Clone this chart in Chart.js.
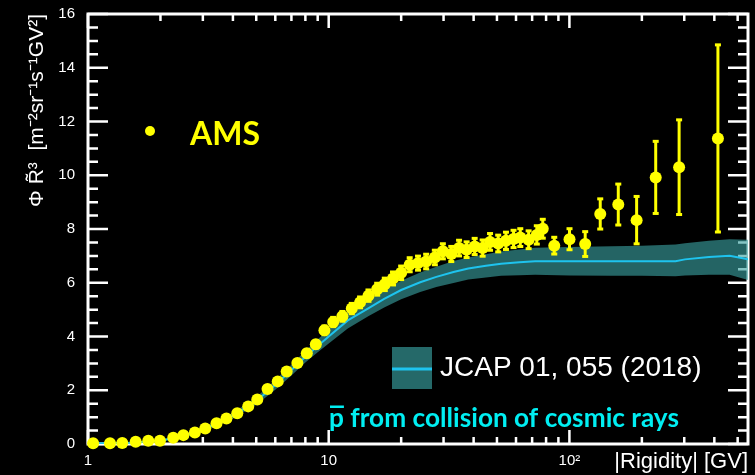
<!DOCTYPE html>
<html><head><meta charset="utf-8">
<script src="https://cdn.jsdelivr.net/npm/chart.js@4.4.1/dist/chart.umd.min.js"></script>
<style>html,body{margin:0;padding:0;background:#000;}canvas{display:block;}</style>
</head><body>
<canvas id="c" width="755" height="475"></canvas>
<script>
// ---- AMS data (rigidity GV, flux*R^3, symmetric error) ----
const amsR = [1.05,1.234,1.388,1.578,1.78,1.99,2.26,2.49,2.78,3.07,3.42,3.76,4.17,4.63,5.05,5.57,6.14,6.69,7.41,8.11,8.84,9.6,10.44,11.4,12.47,13.5,14.63,15.9,17.1,18.5,20.0,21.7,23.5,25.4,27.6,29.8,32.3,34.8,37.4,40.4,43.6,46.8,50.6,54.5,58.6,62.5,67.7,73.2,77.5,86.5,100.1,116.3,134.3,159.6,190.2,228.3,285.6,414];
const amsFlux = [0.03,0.03,0.04,0.08,0.12,0.12,0.23,0.33,0.43,0.58,0.77,0.95,1.14,1.40,1.66,2.05,2.33,2.70,3.01,3.38,3.71,4.23,4.54,4.75,5.04,5.27,5.52,5.76,5.94,6.16,6.37,6.67,6.73,6.79,6.94,7.17,7.07,7.29,7.23,7.35,7.29,7.52,7.46,7.56,7.63,7.68,7.60,7.78,8.01,7.38,7.62,7.44,8.56,8.91,8.33,9.92,10.30,11.37];
const amsErr = [0.01,0.01,0.01,0.02,0.02,0.02,0.03,0.03,0.04,0.04,0.05,0.05,0.06,0.06,0.07,0.07,
  0.10,0.12,0.13,0.15,0.16,0.18,0.19,0.2,0.21,0.22,0.23,0.24,
  0.25,0.26,0.27,0.28,0.28,0.29,0.29,0.3,0.3,0.31,0.31,0.32,
  0.32,0.33,0.33,0.34,0.34,0.35,0.35,0.36,
  0.37,0.33,0.41,0.48,0.58,0.78,0.9,1.36,1.78,3.5];

// ---- Model (JCAP 01, 055 (2018)) ----
const modelR = [1,1.5,2,2.5,3,3.5,4,5,6,7,8,9,10,12,14.6,17,20,24,28,33,38,45,52,62,72,100,150,200,276,302,380,463,552];
const modelFlux = [0.02,0.05,0.12,0.3,0.53,0.8,1.05,1.6,2.2,2.75,3.25,3.65,4.0,4.6,5.05,5.4,5.73,6.02,6.22,6.40,6.53,6.63,6.71,6.76,6.80,6.80,6.80,6.80,6.80,6.87,6.96,7.0,6.87];
const bandLow = [0.0,0.03,0.09,0.25,0.46,0.71,0.94,1.46,2.02,2.55,3.03,3.41,3.74,4.3,4.75,5.08,5.39,5.66,5.84,5.99,6.12,6.2,6.26,6.28,6.3,6.27,6.26,6.26,6.24,6.27,6.3,6.3,6.1];
const bandHigh = [0.04,0.08,0.16,0.36,0.6,0.89,1.16,1.74,2.38,2.95,3.47,3.89,4.26,4.9,5.35,5.72,6.07,6.38,6.60,6.81,6.94,7.06,7.16,7.24,7.3,7.33,7.36,7.38,7.42,7.47,7.56,7.62,7.6];

// ---- axes ----
const xTickValues = [1,10,100];
const xTickLabels = ['1','10','10\u00B2'];
const xMin = 1, xMax = 552;
const yMin = 0, yMax = 16, yStep = 2;
const xTitle = '|Rigidity| [GV]';
const yTitle = '\u03A6 R\u0303\u00B3  [m\u207B\u00B2sr\u207B\u00B9s\u207B\u00B9GV\u00B2]';
const amsLabel = 'AMS';
const modelLabel = 'JCAP 01, 055 (2018)';
const noteText = 'p from collision of cosmic rays';

const FONT = '"Liberation Sans", Arial, Helvetica, sans-serif';
const YELLOW = '#ffff00';
const CYAN_LINE = '#1ec3ee';
const BAND = 'rgba(58,162,162,0.62)';
const BAND_SOLID = '#256969';
const NOTE = '#00eef2';

const pts = (xs, ys) => xs.map((v, i) => ({x: v, y: ys[i]}));

const frameTicks = {
  id: 'frameTicks',
  beforeDatasetsDraw(chart) {
    const {ctx, chartArea: a, scales: {x, y}} = chart;
    ctx.save();
    ctx.strokeStyle = '#fff';
    ctx.lineWidth = 2.5;
    ctx.beginPath();
    for (let i = 0; i <= (yMax - yMin) * 2; i++) {
      const v = yMin + i / 2;
      const py = y.getPixelForValue(v);
      const len = (i % 4 === 0) ? 20 : 10;
      ctx.moveTo(a.left, py); ctx.lineTo(a.left + len, py);
      ctx.moveTo(a.right, py); ctx.lineTo(a.right - len, py);
    }
    for (let d = 1; d <= 100; d *= 10) {
      for (let m = 1; m <= 9; m++) {
        const v = d * m;
        if (v > xMax) break;
        const px = x.getPixelForValue(v);
        const len = m === 1 ? 14 : 7;
        ctx.moveTo(px, a.bottom); ctx.lineTo(px, a.bottom - len);
        ctx.moveTo(px, a.top); ctx.lineTo(px, a.top + len);
      }
    }
    ctx.stroke();
    ctx.lineWidth = 3;
    ctx.strokeRect(a.left, a.top, a.right - a.left, a.bottom - a.top);
    ctx.restore();
  }
};

const errorBars = {
  id: 'errorBars',
  beforeDatasetDraw(chart, args) {
    if (args.index !== 0) return;
    const {ctx, scales: {x, y}} = chart;
    ctx.save();
    ctx.strokeStyle = YELLOW; ctx.fillStyle = YELLOW; ctx.lineWidth = 3;
    for (let i = 0; i < amsR.length; i++) {
      const px = x.getPixelForValue(amsR[i]);
      const yt = y.getPixelForValue(amsFlux[i] + amsErr[i]);
      const yb = y.getPixelForValue(amsFlux[i] - amsErr[i]);
      ctx.beginPath(); ctx.moveTo(px, yt); ctx.lineTo(px, yb); ctx.stroke();
      ctx.fillRect(px - 3, yt - 1, 6, 3);
      ctx.fillRect(px - 3, yb - 2, 6, 3);
    }
    ctx.restore();
  }
};

const annotations = {
  id: 'annotations',
  afterDraw(chart) {
    const {ctx} = chart;
    ctx.save();
    // AMS legend
    ctx.fillStyle = YELLOW;
    ctx.beginPath(); ctx.arc(150, 131, 5, 0, Math.PI * 2); ctx.fill();
    ctx.font = 'bold 32px Lato, "Open Sans", sans-serif';
    ctx.textBaseline = 'alphabetic'; ctx.textAlign = 'left';
    ctx.fillText(amsLabel, 190, 145);
    // model legend
    ctx.fillStyle = BAND_SOLID;
    ctx.fillRect(392, 347, 40, 42);
    ctx.strokeStyle = CYAN_LINE; ctx.lineWidth = 3;
    ctx.beginPath(); ctx.moveTo(392, 369); ctx.lineTo(432, 369); ctx.stroke();
    ctx.fillStyle = '#fff';
    ctx.font = '28px ' + FONT;
    ctx.fillText(modelLabel, 440, 376);
    // note text
    let size = 28;
    ctx.font = 'bold ' + size + 'px Lato, "Open Sans", sans-serif';
    const w = ctx.measureText(noteText).width;
    if (w > 350) { size = size * 350 / w; ctx.font = 'bold ' + size.toFixed(2) + 'px Lato, "Open Sans", sans-serif'; }
    ctx.fillStyle = NOTE;
    ctx.fillText(noteText, 329, 427);
    const pw = ctx.measureText('p').width;
    ctx.fillRect(330, 405.5, pw - 1, 2.5);
    ctx.restore();
  }
};

new Chart(document.getElementById('c'), {
  type: 'scatter',
  data: {
    datasets: [
      {label: amsLabel, data: pts(amsR, amsFlux), pointRadius: 6, pointHoverRadius: 6,
       backgroundColor: YELLOW, borderWidth: 0, showLine: false, clip: false},
      {label: modelLabel, data: pts(modelR, modelFlux), showLine: true, pointRadius: 0,
       borderColor: CYAN_LINE, borderWidth: 2, fill: false, tension: 0},
      {label: 'band high', data: pts(modelR, bandHigh), showLine: true, pointRadius: 0,
       borderWidth: 0, borderColor: 'rgba(0,0,0,0)', backgroundColor: BAND, fill: '+1', tension: 0},
      {label: 'band low', data: pts(modelR, bandLow), showLine: true, pointRadius: 0,
       borderWidth: 0, borderColor: 'rgba(0,0,0,0)', fill: false, tension: 0}
    ]
  },
  options: {
    responsive: false, animation: false, devicePixelRatio: 1,
    layout: {padding: {top: 10, right: 7, left: 0, bottom: 0}},
    plugins: {legend: {display: false}, tooltip: {enabled: false}},
    scales: {
      x: {
        type: 'logarithmic', min: xMin, max: xMax,
        grid: {display: false}, border: {display: false},
        afterBuildTicks: s => { s.ticks = xTickValues.map(v => ({value: v})); },
        afterFit: s => { s.height = 31; },
        ticks: {color: '#fff', font: {family: FONT, size: 15}, padding: 0, maxRotation: 0, autoSkip: false,
                callback: (v, i) => xTickLabels[i]},
        title: {display: true, text: xTitle, align: 'end', color: '#fff',
                font: {family: FONT, size: 22}, padding: {top: 0, bottom: 0}}
      },
      y: {
        min: yMin, max: yMax,
        grid: {display: false}, border: {display: false},
        afterFit: s => { s.width = 88; },
        ticks: {stepSize: yStep, color: '#fff', font: {family: FONT, size: 15}, padding: 5},
        title: {display: true, text: yTitle, align: 'end', color: '#fff',
                font: {family: FONT, size: 21}, padding: {top: 25, bottom: 0}}
      }
    }
  },
  plugins: [frameTicks, errorBars, annotations]
});
</script>
</body></html>
